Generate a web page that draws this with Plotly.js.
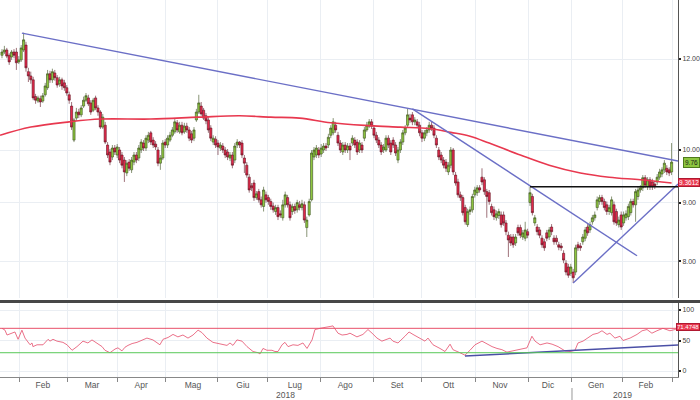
<!DOCTYPE html>
<html>
<head>
<meta charset="utf-8">
<script src="https://cdn.plot.ly/plotly-3.0.1.min.js"></script>
<style>html,body{margin:0;padding:0;background:#fff}#chart{width:700px;height:400px}</style>
</head>
<body>
<div id="chart"></div>
<script>
// ---- Daily OHLC (trading-day index 0 = mid Jan 2018 ... 279 = end Feb 2019) ----
const open = [12.09,12.17,12.22,12.09,12.05,12.17,12.17,11.93,11.98,12.22,
12.34,11.70,11.60,11.51,11.13,11.03,11.08,11.03,11.17,11.33,
11.65,11.51,11.67,11.56,11.42,11.51,11.44,11.33,11.17,10.92,
10.20,10.66,10.79,10.73,10.92,11.05,11.10,10.99,10.83,11.10,
10.88,10.79,10.47,10.51,10.10,9.96,9.86,10.04,9.90,10.00,
9.90,9.80,9.55,9.76,9.61,9.76,9.90,9.84,10.00,10.14,
10.04,10.20,10.35,10.20,10.12,10.00,9.74,9.84,10.16,10.10,
10.20,10.30,10.37,10.56,10.37,10.51,10.37,10.49,10.41,10.33,
10.24,10.62,10.79,10.92,10.83,10.71,10.62,10.45,10.16,10.22,
10.14,10.04,10.08,10.00,9.96,9.84,9.90,9.80,10.10,10.16,
10.14,9.84,9.70,9.47,9.31,9.36,9.09,9.20,9.05,8.93,
9.14,9.09,9.02,8.94,8.84,8.91,8.80,8.73,8.96,9.09,
8.96,8.84,8.93,8.87,8.96,8.91,8.96,8.56,8.78,9.05,
9.86,9.90,10.00,9.92,10.00,10.08,10.10,10.30,10.35,10.51,
10.30,10.14,9.96,10.10,10.00,10.08,10.14,10.20,10.16,10.00,
10.10,10.24,10.41,10.49,10.58,10.45,10.30,10.20,10.10,10.00,
10.00,10.24,10.14,10.20,10.10,9.80,10.00,10.16,10.35,10.51,
10.66,10.73,10.58,10.58,10.51,10.35,10.24,10.35,10.41,10.51,
10.45,10.24,10.00,9.90,9.80,9.76,9.57,9.70,10.00,9.51,
9.38,9.14,9.09,8.91,8.61,8.84,8.87,9.14,9.18,9.27,
9.47,9.42,9.20,9.18,8.93,8.87,8.73,8.77,8.78,8.78,
8.64,8.43,8.40,8.40,8.30,8.56,8.56,8.40,8.38,8.49,
9.00,9.11,8.64,8.57,8.52,8.38,8.32,8.47,8.40,8.57,
8.38,8.38,8.27,8.25,8.13,7.97,7.91,7.81,7.83,7.83,
8.27,8.25,8.32,8.38,8.57,8.52,8.66,8.73,8.91,9.02,
9.09,9.02,8.96,8.84,8.82,8.96,8.84,8.61,8.78,8.64,
8.73,8.75,8.82,9.02,8.96,9.11,9.23,9.27,9.46,9.29,
9.42,9.38,9.34,9.38,9.47,9.53,9.61,9.64,9.61,9.57];
const high = [12.24,12.32,12.27,12.14,12.22,12.24,12.27,12.07,12.34,12.65,
12.42,11.79,11.70,11.58,11.19,11.15,11.15,11.21,11.44,11.74,
11.72,11.77,11.74,11.62,11.58,11.56,11.51,11.39,11.24,11.01,
10.66,10.88,10.86,10.94,11.13,11.21,11.17,11.05,11.10,11.15,
10.94,10.83,10.75,10.58,10.16,10.02,10.10,10.10,10.12,10.06,
9.96,9.86,9.80,9.82,9.86,9.96,9.96,10.10,10.22,10.20,
10.30,10.37,10.39,10.26,10.18,10.06,9.90,10.20,10.22,10.30,
10.37,10.47,10.64,10.62,10.58,10.58,10.56,10.56,10.47,10.39,
10.47,10.86,11.17,11.01,10.88,10.77,10.68,10.51,10.30,10.28,
10.20,10.16,10.14,10.06,10.02,9.96,9.96,10.14,10.22,10.18,
10.20,9.90,9.76,9.53,9.36,9.42,9.21,9.25,9.11,9.29,
9.20,9.14,9.07,9.00,8.96,8.96,8.86,9.05,9.20,9.14,
9.02,8.98,8.98,9.05,9.03,9.05,9.02,8.75,9.07,10.00,
10.06,10.10,10.06,10.12,10.14,10.14,10.33,10.51,10.66,10.58,
10.37,10.20,10.16,10.16,10.14,10.14,10.30,10.26,10.22,10.20,
10.16,10.47,10.58,10.64,10.64,10.51,10.37,10.26,10.16,10.12,
10.30,10.30,10.20,10.26,10.16,10.06,10.22,10.41,10.51,10.86,
10.75,10.79,10.68,10.64,10.58,10.41,10.41,10.47,10.58,10.58,
10.51,10.30,10.06,9.96,9.86,9.82,9.76,10.06,10.04,9.57,
9.44,9.20,9.14,8.96,8.89,8.93,9.16,9.29,9.32,9.32,
9.64,9.47,9.25,9.23,8.98,8.93,8.86,8.89,8.84,8.84,
8.69,8.49,8.45,8.45,8.45,8.61,8.61,8.52,8.66,8.54,
9.29,9.16,8.78,8.62,8.57,8.43,8.37,8.52,8.57,8.62,
8.43,8.43,8.32,8.30,8.18,8.02,7.96,7.96,7.88,8.27,
8.32,8.30,8.45,8.57,8.62,8.66,8.78,8.84,9.11,9.14,
9.14,9.07,9.02,8.96,9.11,9.02,8.89,8.75,8.84,8.84,
8.86,8.98,9.07,9.07,9.25,9.29,9.32,9.51,9.51,9.47,
9.47,9.44,9.40,9.53,9.63,9.66,9.80,9.70,9.66,10.14];
const low = [12.02,12.12,12.02,11.86,11.98,12.02,11.74,11.88,11.93,12.17,
11.70,11.46,11.42,11.05,10.97,10.99,10.90,10.99,11.13,11.28,
11.44,11.44,11.49,11.33,11.35,11.28,11.26,11.15,10.97,10.41,
10.16,10.60,10.66,10.68,10.88,11.01,10.92,10.73,10.79,10.83,
10.71,10.43,10.43,10.12,9.84,9.70,9.80,9.90,9.84,9.74,
9.64,9.38,9.49,9.59,9.55,9.70,9.74,9.78,9.94,9.98,
9.98,10.14,10.10,10.04,10.00,9.68,9.61,9.80,10.04,10.04,
10.16,10.26,10.33,10.35,10.33,10.30,10.33,10.35,10.18,10.14,
10.18,10.58,10.75,10.71,10.62,10.53,10.35,10.18,10.10,10.04,
9.90,9.98,9.94,9.84,9.80,9.78,9.64,9.74,10.04,10.04,
9.84,9.55,9.46,9.18,9.21,9.03,9.05,9.00,8.91,8.84,
9.00,8.96,8.87,8.82,8.78,8.69,8.73,8.68,8.91,8.91,
8.68,8.78,8.80,8.82,8.86,8.86,8.64,8.40,8.75,9.02,
9.80,9.84,9.84,9.86,9.94,9.98,10.04,10.24,10.30,10.35,
10.08,9.94,9.90,9.94,9.94,9.80,10.08,10.04,9.90,9.94,
9.94,10.18,10.37,10.45,10.43,10.24,10.14,10.04,9.90,9.94,
9.96,10.04,9.90,10.04,9.88,9.74,9.94,10.10,10.30,10.47,
10.56,10.51,10.51,10.45,10.28,10.16,10.18,10.28,10.35,10.39,
10.24,10.04,9.80,9.74,9.64,9.57,9.51,9.64,9.51,9.31,
9.09,9.03,8.77,8.61,8.57,8.78,8.82,9.09,9.12,9.18,
9.32,9.14,8.73,8.96,8.77,8.69,8.68,8.71,8.56,8.59,
8.43,8.07,8.25,8.22,8.25,8.42,8.38,8.35,8.33,8.38,
8.94,8.77,8.59,8.43,8.38,8.22,8.17,8.33,8.35,8.43,
8.27,8.27,8.18,8.17,7.97,7.78,7.74,7.77,7.66,7.78,
8.17,8.17,8.27,8.33,8.42,8.47,8.61,8.68,8.86,8.96,
8.96,8.86,8.78,8.78,8.77,8.61,8.59,8.56,8.52,8.59,
8.68,8.69,8.77,8.91,8.66,9.05,9.18,9.21,9.27,9.23,
9.23,9.23,9.25,9.32,9.42,9.47,9.55,9.51,9.49,9.51];
const close = [12.17,12.22,12.07,11.93,12.17,12.09,11.91,11.98,12.27,12.47,
11.79,11.60,11.51,11.10,11.05,11.10,11.01,11.15,11.37,11.65,
11.51,11.70,11.56,11.39,11.51,11.37,11.33,11.21,11.05,10.47,
10.62,10.79,10.73,10.88,11.05,11.15,10.97,10.79,11.05,10.88,
10.79,10.47,10.68,10.16,9.90,9.76,10.04,9.96,10.06,9.80,
9.70,9.57,9.74,9.64,9.80,9.90,9.80,10.04,10.16,10.04,
10.24,10.30,10.16,10.10,10.06,9.74,9.84,10.14,10.10,10.24,
10.30,10.41,10.58,10.41,10.51,10.35,10.49,10.41,10.24,10.20,
10.41,10.79,10.99,10.75,10.66,10.60,10.41,10.24,10.24,10.10,
10.06,10.10,10.00,9.90,9.86,9.90,9.70,10.08,10.16,10.10,
9.90,9.74,9.51,9.23,9.27,9.09,9.16,9.05,8.96,9.23,
9.05,9.02,8.93,8.87,8.91,8.75,8.78,8.96,9.14,8.96,
8.73,8.93,8.86,9.00,8.91,8.98,8.69,8.69,9.02,9.94,
10.00,10.04,9.90,10.04,10.08,10.04,10.26,10.45,10.58,10.41,
10.14,10.00,10.10,10.00,10.08,10.00,10.24,10.10,9.96,10.14,
10.00,10.41,10.51,10.58,10.49,10.30,10.20,10.10,9.96,10.06,
10.24,10.10,9.96,10.10,9.94,10.00,10.16,10.35,10.45,10.73,
10.62,10.58,10.62,10.51,10.35,10.24,10.35,10.41,10.51,10.45,
10.30,10.10,9.86,9.80,9.70,9.64,9.70,10.00,9.57,9.36,
9.14,9.09,8.82,8.66,8.84,8.87,9.11,9.23,9.27,9.23,
9.38,9.20,9.11,9.02,8.82,8.75,8.80,8.84,8.61,8.64,
8.49,8.35,8.30,8.27,8.40,8.47,8.43,8.47,8.52,8.43,
9.18,8.82,8.73,8.49,8.43,8.27,8.22,8.38,8.52,8.49,
8.32,8.32,8.23,8.22,8.02,7.83,7.78,7.91,7.74,8.22,
8.22,8.22,8.40,8.52,8.47,8.61,8.73,8.78,9.05,9.09,
9.02,8.91,8.84,8.91,9.05,8.66,8.64,8.69,8.57,8.78,
8.80,8.93,9.02,8.96,9.20,9.23,9.27,9.46,9.32,9.42,
9.29,9.29,9.31,9.47,9.57,9.61,9.74,9.57,9.55,9.76];

// ---- Moving average (read at sample days) ----
const maDay = [-0.8,12,28,41,62,82,99,112,124,137,153,166,178,187,195,203,216,228,241,253,266,279];
const maVal = [10.30,10.47,10.58,10.64,10.64,10.68,10.71,10.68,10.66,10.56,10.50,10.47,10.44,10.36,10.28,10.14,9.90,9.70,9.55,9.47,9.42,9.36];

// ---- Trend lines (day, price) ----
const trendLongDay = [8.3, 281.7],  trendLongPx = [12.64, 9.78];
const trendDownDay = [171, 264.6],  trendDownPx = [10.86, 8.09];
const trendUpDay   = [238, 281.7],  trendUpPx   = [7.66, 9.34];
const resistDay    = [220, 281.7],  resistPx    = [9.29, 9.29];

// ---- RSI (read at sample days) ----
const rsiDay = [0,1.25,2.1,4.6,5.4,6.7,8.3,9.6,11.7,12.5,12.9,14.6,17.1,19.2,20,21.25,22.9,25.4,27.1,29.2,31.25,33.75,35.8,37.5,39.6,41.7,42.9,45,47.1,48.3,50,51.25,52.5,54.2,56.25,58.75,60.4,62.9,64.6,65.8,67.1,69.2,71.25,73.3,75.4,77.5,79.6,81.7,83.3,85.4,87.9,90.8,93.75,95,96.25,97.9,100,102.1,104.6,106.7,107.5,108.75,110.4,112.5,113.75,115,116.7,117.9,119.2,121.25,123.3,125.4,127.1,129.2,130.4,132.5,134.6,136.7,137.9,140,141.7,143.75,145,147.9,150.4,152.5,154.2,156.25,158.3,160.4,161.7,162.9,165,167.9,169.6,171.25,174.2,176.25,177.5,179.6,182.5,184.6,186.7,187.9,190.8,192.9,195,197.1,200,202.1,204.2,206.25,208.3,210.4,212.9,215,217.1,218.75,220.8,222.1,224.2,227.1,229.2,231.7,234.6,236.7,238.75,240,242.1,244.2,246.25,248.3,250,252.1,253.3,255.4,257.5,258.75,261.7,264.6,266.7,268.75,270.8,272.9,275.4,278.3,280.4,281.7];
const rsiVal = [70,67,59,63,64,52,67,54,43,46,40,43,43,52,49,52,49,47,43,34,40,49,46,51,46,40,34,30,36,38,33,39,42,45,47,52,54,51,46,43,52,55,60,56,59,54,59,67,63,54,47,45,42,46,42,51,49,40,32,30,28,37,34,34,32,32,43,47,40,43,42,46,37,51,68,70,71,73,74,62,59,60,62,56,60,68,62,54,49,52,54,49,46,57,64,60,54,49,54,43,37,32,44,35,30,26,34,43,49,44,40,37,35,31,33,35,37,38,57,49,43,46,44,40,33,32,34,46,49,54,60,62,66,60,62,54,57,50,54,60,66,68,62,66,70,66,68,71];
const rsiTrendDay = [192.9, 281.7], rsiTrendVal = [24.6, 42.6];
const rsiUpper = 70, rsiLower = 30;

// ---- Axis labels ----
const monthStart = [7.1,27.5,48.3,68.3,90,110.8,132.9,154.6,175,197.5,219.2,237.5,258.75,279.2];
const monthMid   = [17,37.5,58,79.6,100.4,122,143,164.6,186,207.5,227.5,247.5,268.3];
const monthLabels = ['Feb','Mar','Apr','Mag','Giu','Lug','Ago','Set','Ott','Nov','Dic','Gen','Feb'];
const yearLabels = ['2018','2019'];
const yearMid = [118.3, 258.5];
const yearBreak = 237.5;
const priceTicks = [8,9,10,12];
const priceTickText = ['8.00','9.00','10.00','12.00'];
const rsiTicks = [0,50,100];

const lastClose = 9.76, lastMA = 9.3612, lastRSI = 71.4748;

const idx = open.map((_, i) => i);
const FONT = "'Liberation Sans', Arial, sans-serif";
const XR = [-0.83, 281.67];
const GRID = '#eaeef3';

const traces = [
  {type:'candlestick', x:idx, open:open, high:high, low:low, close:close,
   xaxis:'x', yaxis:'y', whiskerwidth:0, hoverinfo:'skip',
   increasing:{line:{color:'#3b4f1c', width:0.6}, fillcolor:'#8dc63f'},
   decreasing:{line:{color:'#5e1422', width:0.6}, fillcolor:'#e3294b'}},
  {type:'scatter', mode:'lines', x:maDay, y:maVal, xaxis:'x', yaxis:'y',
   line:{color:'#e8384f', width:1.6, shape:'spline', smoothing:1}, hoverinfo:'skip'},
  {type:'scatter', mode:'lines', x:trendLongDay, y:trendLongPx, xaxis:'x', yaxis:'y',
   line:{color:'#6b6fc6', width:1.4}, hoverinfo:'skip'},
  {type:'scatter', mode:'lines', x:trendDownDay, y:trendDownPx, xaxis:'x', yaxis:'y',
   line:{color:'#6b6fc6', width:1.4}, hoverinfo:'skip'},
  {type:'scatter', mode:'lines', x:trendUpDay, y:trendUpPx, xaxis:'x', yaxis:'y',
   line:{color:'#6b6fc6', width:1.4}, hoverinfo:'skip'},
  {type:'scatter', mode:'lines', x:resistDay, y:resistPx, xaxis:'x', yaxis:'y',
   line:{color:'#111111', width:1.6}, hoverinfo:'skip'},
  {type:'scatter', mode:'lines', x:rsiDay, y:rsiVal, xaxis:'x2', yaxis:'y2',
   line:{color:'#e8607a', width:0.9}, hoverinfo:'skip'},
  {type:'scatter', mode:'lines', x:rsiTrendDay, y:rsiTrendVal, xaxis:'x2', yaxis:'y2',
   line:{color:'#4a4fa6', width:1.4}, hoverinfo:'skip'}
];

const mainBottom = (377-298)/377, rsiTop = (377-303)/377;
const RIGHT = 700/678;

const layout = {
  width:700, height:400,
  margin:{l:0, r:22, t:0, b:23, pad:0},
  paper_bgcolor:'#ffffff', plot_bgcolor:'#ffffff',
  showlegend:false, boxgap:0.1, boxgroupgap:0,
  font:{family:FONT, size:9, color:'#555'},
  xaxis:{domain:[0,1], anchor:'y', range:XR, tickmode:'array', tickvals:monthStart,
    showticklabels:false, ticks:'', showgrid:true, gridcolor:GRID, gridwidth:1,
    zeroline:false, showline:false, rangeslider:{visible:false}, fixedrange:true},
  yaxis:{domain:[mainBottom,1], anchor:'x', type:'log', range:[0.87119,1.13055], side:'right',
    tickmode:'array', tickvals:priceTicks, ticktext:priceTickText,
    ticks:'outside', ticklen:2, tickwidth:2, tickcolor:'#222',
    showline:true, linecolor:'#555', linewidth:1, mirror:false,
    showgrid:true, gridcolor:GRID, zeroline:false,
    tickfont:{family:FONT, size:7, color:'#444'}, fixedrange:true},
  xaxis2:{domain:[0,1], anchor:'y2', range:XR, tickmode:'array', tickvals:monthMid, ticktext:monthLabels,
    ticks:'', showgrid:false, zeroline:false, showline:true, linecolor:'#888', linewidth:1,
    minor:{tickmode:'array', tickvals:monthStart, ticks:'outside', ticklen:4, tickcolor:'#888',
      showgrid:true, gridcolor:GRID},
    tickfont:{family:FONT, size:8.5, color:'#555'}, fixedrange:true},
  yaxis2:{domain:[0,rsiTop], anchor:'x2', range:[-9.8,111.5], side:'right',
    tickmode:'array', tickvals:rsiTicks, ticks:'outside', ticklen:2, tickwidth:2, tickcolor:'#222',
    showline:true, linecolor:'#555', linewidth:1, showgrid:true, gridcolor:GRID, zeroline:false,
    tickfont:{family:FONT, size:7, color:'#444'}, fixedrange:true},
  shapes:[
    {type:'line', xref:'paper', yref:'y2', x0:0, x1:1, y0:rsiUpper, y1:rsiUpper, line:{color:'#e8506a', width:1}},
    {type:'line', xref:'paper', yref:'y2', x0:0, x1:1, y0:rsiLower, y1:rsiLower, line:{color:'#58c858', width:1}},
    {type:'line', xref:'paper', yref:'paper', x0:0, x1:RIGHT, y0:(377-301.5)/377, y1:(377-301.5)/377,
     line:{color:'#474747', width:3}},
    {type:'line', xref:'x2', yref:'paper', x0:yearBreak, x1:yearBreak, y0:-11/377, y1:-23/377,
     line:{color:'#999', width:1}}
  ],
  annotations:[
    {xref:'x2', yref:'paper', x:yearMid[0], y:-18/377, text:yearLabels[0], showarrow:false,
     font:{family:FONT, size:8.5, color:'#555'}, yanchor:'middle'},
    {xref:'x2', yref:'paper', x:yearMid[1], y:-18/377, text:yearLabels[1], showarrow:false,
     font:{family:FONT, size:8.5, color:'#555'}, yanchor:'middle'},
    {xref:'paper', yref:'y', x:RIGHT, xanchor:'right', y:Math.log10(lastClose), text:lastClose.toFixed(2),
     showarrow:false, bgcolor:'#8dc63f', bordercolor:'#4f7a1c', borderwidth:1, borderpad:1,
     font:{family:FONT, size:6.5, color:'#1a1a1a'}},
    {xref:'paper', yref:'y', x:RIGHT, xanchor:'right', y:Math.log10(lastMA), text:lastMA.toFixed(4),
     showarrow:false, bgcolor:'#e8384f', bordercolor:'#b01830', borderwidth:1, borderpad:0,
     font:{family:FONT, size:6.5, color:'#ffffff'}},
    {xref:'paper', yref:'y2', x:RIGHT, xanchor:'right', y:lastRSI, text:lastRSI.toFixed(4),
     showarrow:false, bgcolor:'#e8384f', bordercolor:'#b01830', borderwidth:1, borderpad:0,
     font:{family:FONT, size:6, color:'#ffffff'}}
  ]
};

Plotly.newPlot('chart', traces, layout, {staticPlot:true, displayModeBar:false});
</script>
</body>
</html>
